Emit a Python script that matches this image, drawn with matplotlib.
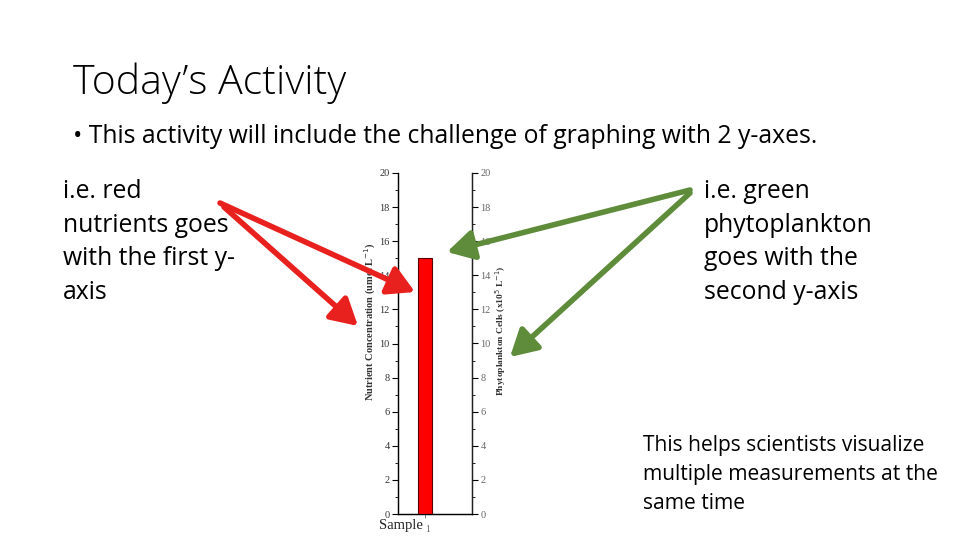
import matplotlib
matplotlib.use("Agg")
import matplotlib.pyplot as plt
import numpy as np

# ---- data ----
categories = [1]
nutrient_values = [15]
y_ticks = [0, 2, 4, 6, 8, 10, 12, 14, 16, 18, 20]
left_label = "Nutrient Concentration (umol L$^{-1}$)"
right_label = "Phytoplankton Cells (x10$^{5}$ L$^{-1}$)"

title = "Today\u2019s Activity"
bullet = "\u2022 This activity will include the challenge of graphing with 2 y-axes."
left_lines = ["i.e. red", "nutrients goes", "with the first y-", "axis"]
right_lines = ["i.e. green", "phytoplankton", "goes with the", "second y-axis"]
bottom_lines = ["This helps scientists visualize", "multiple measurements at the", "same time"]

W, H = 960, 540
fig = plt.figure(figsize=(9.6, 5.4), dpi=100)
fig.patch.set_facecolor("white")

def fx(x):
    return x / W
def fy(y):
    return 1 - y / H

body_font = ["Open Sans", "DejaVu Sans"]
serif = ["Liberation Serif", "DejaVu Serif"]

# ---- chart ----
ax = fig.add_axes([fx(398), fy(514), fx(472) - fx(398), fy(173) - fy(514)])
ax.bar(categories, nutrient_values, width=0.52, color="#ff0000",
       edgecolor="#5a0000", linewidth=0.8, zorder=3)
ax.set_xlim(0, 2.74)
ax.set_ylim(0, 20)
ax.set_yticks(y_ticks)
ax.set_yticks(np.arange(1, 20, 2), minor=True)
ax.set_xticks(categories)
ax.tick_params(axis="x", length=3, width=0.6, labelsize=7, colors="#666666", pad=5)
ax.tick_params(axis="y", which="major", length=4, width=0.8, labelsize=7.5, labelcolor="#333333", pad=2)
ax.tick_params(axis="y", which="minor", length=2, width=0.6)
for lab in ax.get_xticklabels():
    lab.set_fontfamily(serif)
    lab.set_horizontalalignment("left")
for lab in ax.get_yticklabels():
    lab.set_fontfamily(serif)
ax.spines["top"].set_visible(False)
for s in ["left", "bottom", "right"]:
    ax.spines[s].set_linewidth(1.0)
    ax.spines[s].set_color("#222222")

ax2 = ax.twinx()
ax2.set_ylim(0, 20)
ax2.set_yticks(y_ticks)
ax2.set_yticks(np.arange(1, 20, 2), minor=True)
ax2.tick_params(axis="y", which="major", length=4, width=0.8, labelsize=7.5, labelcolor="#666666", pad=2)
ax2.tick_params(axis="y", which="minor", length=2, width=0.6)
for lab in ax2.get_yticklabels():
    lab.set_fontfamily(serif)
ax2.spines["top"].set_visible(False)
ax2.spines["right"].set_color("#222222")

fig.text(fx(370), fy(322), left_label, rotation=90, ha="center", va="center",
         fontsize=7.5, fontweight="bold", family=serif, color="#333333")
fig.text(fx(501), fy(331), right_label, rotation=90, ha="center", va="center",
         fontsize=6.8, fontweight="bold", family=serif, color="#333333")
fig.text(fx(401), fy(526), "Sample", ha="center", va="center",
         fontsize=10.5, family=serif, color="#222222")

# ---- text ----
fig.text(fx(73), fy(94), title, fontsize=29.5, family=body_font, fontweight="light",
         ha="left", va="baseline", color="#000000")
fig.text(fx(73), fy(143), bullet, fontsize=17.8, family=body_font,
         ha="left", va="baseline", color="#000000")
for i, line in enumerate(left_lines):
    fig.text(fx(63), fy(198 + 33.7 * i), line, fontsize=17.8, family=body_font,
             ha="left", va="baseline", color="#000000")
for i, line in enumerate(right_lines):
    fig.text(fx(704), fy(198 + 33.7 * i), line, fontsize=17.8, family=body_font,
             ha="left", va="baseline", color="#000000")
for i, line in enumerate(bottom_lines):
    fig.text(fx(643), fy(451 + 29 * i), line, fontsize=15.1, family=body_font,
             ha="left", va="baseline", color="#000000")

# ---- arrows ----
red = "#e8201e"
green = "#5e8c3a"
arrows = [
    ((220, 203), (415, 292), red),
    ((224, 207), (358, 326), red),
    ((690, 190), (447, 252), green),
    ((690, 193), (510, 357), green),
]
for (x0, y0), (x1, y1), c in arrows:
    fig.add_artist(matplotlib.patches.FancyArrowPatch(
        (fx(x0), fy(y0)), (fx(x1), fy(y1)), transform=fig.transFigure,
        arrowstyle="-|>,head_length=0.8,head_width=0.45", mutation_scale=20,
        color=c, lw=4, shrinkA=0, shrinkB=0, zorder=10))

fig.savefig("out.png", dpi=100, facecolor="white")
